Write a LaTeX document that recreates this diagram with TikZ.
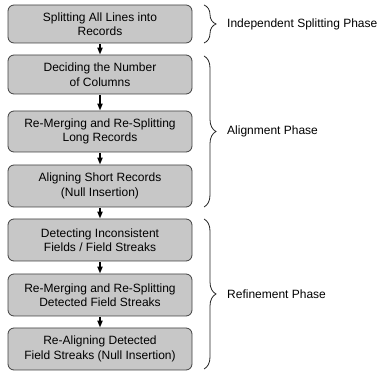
\documentclass[tikz,border=0pt]{standalone}
\usepackage{fontspec}
\setmainfont{Liberation Sans}
\usetikzlibrary{decorations.pathreplacing,arrows.meta}
\begin{document}
\begin{tikzpicture}[x=1pt,y=1pt,
  stepbox/.style={draw=black!75, line width=0.8pt, fill=black!22, rounded corners=6pt,
    minimum width=184pt, minimum height=40pt, inner sep=0pt, align=center,
    font=\fontsize{12}{14.5}\selectfont},
  flowarrow/.style={line width=2.6pt, -{Triangle[length=7pt,width=5pt]}, shorten <=0.5pt},
  phasebrace/.style={decorate, decoration={brace, amplitude=12pt}, line width=0.8pt, draw=black!85},
  phaselabel/.style={anchor=west, inner sep=0pt, font=\fontsize{12}{14.5}\selectfont}]
\useasboundingbox (0,0) rectangle (379,371);
\clip (0,0) rectangle (379,371);
\node[stepbox, minimum height=38pt] (s1) at (100,347) {Splitting All Lines into\\Records};
\node[stepbox, minimum height=39pt] (s2) at (100,296.5) {Deciding the Number\\of Columns};
\node[stepbox, minimum height=41pt] (s3) at (100,239.5) {Re-Merging and Re-Splitting\\Long Records};
\node[stepbox, minimum height=42pt] (s4) at (100,185) {Aligning Short Records\\(Null Insertion)};
\node[stepbox, minimum height=42pt] (s5) at (100,131) {Detecting Inconsistent\\Fields / Field Streaks};
\node[stepbox, minimum height=42pt] (s6) at (100,76) {Re-Merging and Re-Splitting\\Detected Field Streaks};
\node[stepbox, minimum height=42pt] (s7) at (100,22) {Re-Aligning Detected\\Field Streaks (Null Insertion)};
\foreach \a/\b in {s1/s2,s2/s3,s3/s4,s4/s5,s5/s6,s6/s7}
  \draw[flowarrow] (\a.south) -- (\b.north);
\coordinate (b1t) at (204,366);
\coordinate (b1b) at (204,328);
\coordinate (b2t) at (204,315);
\coordinate (b2b) at (204,164);
\coordinate (b3t) at (204,152);
\coordinate (b3b) at (204,2);
\draw[phasebrace] (b1t) -- (b1b);
\draw[phasebrace] (b2t) -- (b2b);
\draw[phasebrace] (b3t) -- (b3b);
\node[phaselabel] (l1) at (227,347) {Independent Splitting Phase};
\node[phaselabel] (l2) at (227,239.5) {Alignment Phase};
\node[phaselabel] (l3) at (227,77) {Refinement Phase};
\end{tikzpicture}
\end{document}
